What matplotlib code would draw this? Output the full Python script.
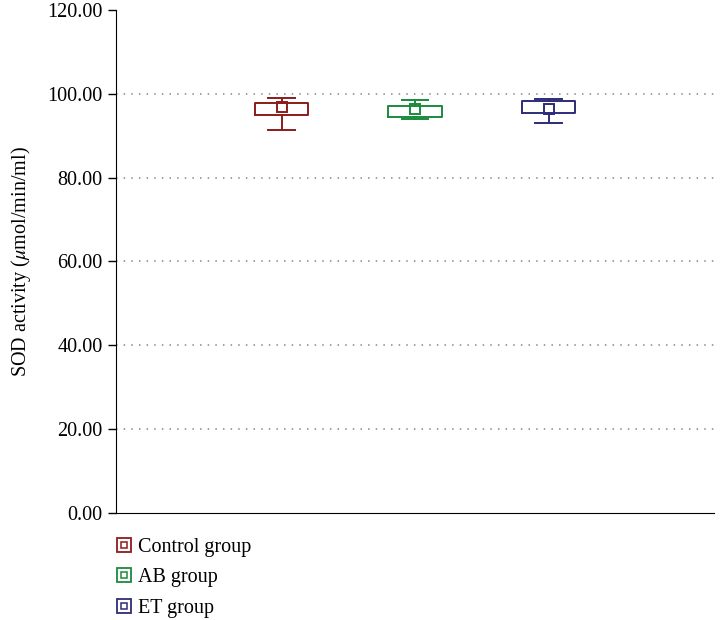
import matplotlib.pyplot as plt
from matplotlib.lines import Line2D

plt.rcParams['font.family'] = ['Liberation Serif', 'DejaVu Serif']
plt.rcParams['mathtext.fontset'] = 'stix'

groups = ['Control group', 'AB group', 'ET group']
colors = ['#8e1b1b', '#1b8a3c', '#2e2c7a']
whislo = [91.4, 94.0, 93.1]
q1 = [95.0, 94.5, 95.5]
med = [96.5, 96.0, 96.8]
q3 = [97.8, 97.1, 98.3]
whishi = [99.0, 98.6, 98.8]
means = [96.9, 96.4, 96.4]
yticks = [0, 20, 40, 60, 80, 100, 120]

fig = plt.figure(figsize=(7.2, 6.2), dpi=100)
ax = fig.add_axes([0.161, 0.173, 0.831, 0.811])

for i, g in enumerate(groups):
    st = [{'whislo': whislo[i], 'q1': q1[i], 'med': med[i], 'q3': q3[i],
           'whishi': whishi[i], 'mean': means[i], 'fliers': []}]
    c = colors[i]
    ax.bxp(st, positions=[i + 1], widths=0.4, showmeans=True,
           boxprops=dict(color=c, lw=1.4),
           whiskerprops=dict(color=c, lw=1.4),
           capprops=dict(color=c, lw=1.4),
           medianprops=dict(lw=0),
           meanprops=dict(marker='s', markerfacecolor='none', markeredgecolor=c,
                          markersize=6.5, markeredgewidth=1.4),
           capwidths=0.2)

ax.set_xlim(-0.24, 4.24)
ax.set_ylim(0, 120)
ax.set_yticks(yticks)
ax.set_yticklabels([f'{v:.2f}' for v in yticks], fontsize=14.5)
ax.set_xticks([])
for y in yticks[1:-1]:
    ax.axhline(y, color='#888888', ls=(0, (1, 4)), lw=1.1, zorder=0)
ax.spines['top'].set_visible(False)
ax.spines['right'].set_visible(False)
ax.tick_params(axis='y', length=6, width=1)
ax.set_ylabel('SOD activity ($\\mu$mol/min/ml)', fontsize=14.5, labelpad=10)

handles = []
for c in colors:
    outer = Line2D([], [], ls='none', marker='s', markersize=10.5, markerfacecolor='none',
                   markeredgecolor=c, markeredgewidth=1.3)
    inner = Line2D([], [], ls='none', marker='s', markersize=4.5, markerfacecolor='none',
                   markeredgecolor=c, markeredgewidth=1.1)
    handles.append((outer, inner))
fig.legend(handles, groups, loc='upper left', bbox_to_anchor=(0.150, 0.145),
           frameon=False, fontsize=14.5, handlelength=0.8, handletextpad=0.3,
           labelspacing=0.55, borderaxespad=0)

fig.savefig('out.png', dpi=100)
